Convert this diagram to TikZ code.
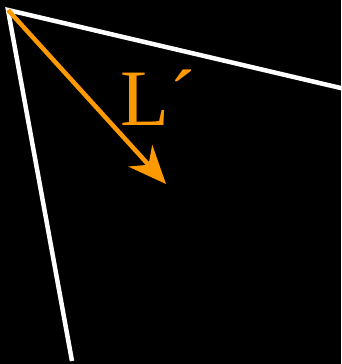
\documentclass[tikz,border=0pt]{standalone}
\usepackage{fontspec}
\setmainfont{Liberation Serif}
\usetikzlibrary{arrows.meta}
\definecolor{arrorange}{HTML}{FF9900}
\begin{document}
\begin{tikzpicture}[x=1pt,y=1pt,
  ray/.style={white,line width=4.5pt},
  vec/.style={arrorange,line width=4.5pt,-{Stealth[length=38pt,width=32pt,inset=12pt]}}]
\fill[black] (0,0) rectangle (341,-364);
\useasboundingbox (0,0) rectangle (341,-364);
\coordinate (V) at (8,-10);
\coordinate (R) at (345,-89);
\coordinate (B) at (72,-361);
\coordinate (T) at (166,-184);
\draw[ray] (R) -- (V) -- (B);
\draw[vec] (V) -- (T);
\node[arrorange,anchor=base west,inner sep=0pt,font=\fontsize{80}{80}\selectfont] (lab) at (120,-125) {L´};
\end{tikzpicture}
\end{document}
